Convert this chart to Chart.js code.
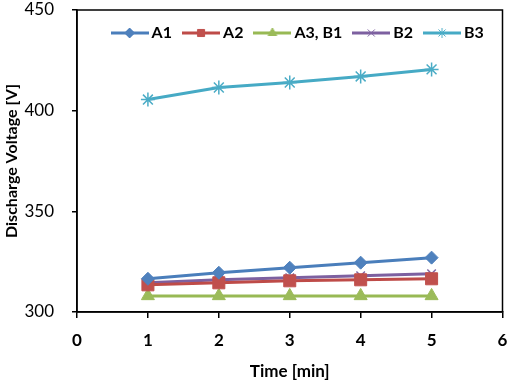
<!DOCTYPE html>
<html>
<head>
<meta charset="utf-8">
<script src="https://cdn.jsdelivr.net/npm/chart.js@4/dist/chart.umd.min.js"></script>
<style>
  html, body { margin: 0; padding: 0; background: #fff; }
  #wrap { width: 512px; height: 382px; position: relative; }
</style>
</head>
<body>
<div id="wrap"><canvas id="c" width="512" height="382"></canvas></div>
<script>
const times = [1, 2, 3, 4, 5];
const seriesNames = ['A1', 'A2', 'A3, B1', 'B2', 'B3'];
const a1 = [316.5, 319.5, 322, 324.5, 327];
const a2 = [313.5, 314.5, 315.5, 316, 316.5];
const a3b1 = [308, 308, 308, 308, 308];
const b2 = [314.5, 316, 317, 318, 319];
const b3 = [405.5, 411.5, 414, 417, 420.5];
const xTicks = [0, 1, 2, 3, 4, 5, 6];
const yTicks = [300, 350, 400, 450];

const lineColors = ['#4A7EBB', '#BE4B48', '#98B954', '#7D60A0', '#46AAC5'];
const fillColors = ['#4F81BD', '#C0504D', '#9BBB59', '#8064A2', '#4BACC6'];
const styles = ['rectRot', 'rect', 'triangle', 'crossRot', 'star'];
const radii = [6.5, 8.5, 7.5, 6, 7];
const allValues = [a1, a2, a3b1, b2, b3];

function legendIcon(i) {
  const cv = document.createElement('canvas');
  cv.width = 38; cv.height = 14;
  const ctx = cv.getContext('2d');
  ctx.strokeStyle = lineColors[i];
  ctx.lineWidth = 3;
  ctx.beginPath(); ctx.moveTo(0, 7); ctx.lineTo(38, 7); ctx.stroke();
  ctx.fillStyle = fillColors[i];
  ctx.strokeStyle = fillColors[i];
  ctx.lineWidth = 1;
  Chart.helpers.drawPoint(ctx, {pointStyle: styles[i], rotation: 0, borderWidth: 1, radius: 5}, 19, 7);
  return cv;
}

const datasets = seriesNames.map((n, i) => ({
  label: n,
  data: times.map((t, k) => ({x: t, y: allValues[i][k]})),
  borderColor: lineColors[i],
  backgroundColor: fillColors[i],
  pointBackgroundColor: fillColors[i],
  pointBorderColor: fillColors[i],
  pointStyle: styles[i],
  pointRadius: radii[i],
  pointBorderWidth: (i >= 3) ? 1.5 : 1,
  borderWidth: 3,
  tension: 0,
  fill: false
}));

const frame = {
  id: 'frame',
  beforeUpdate(chart) {
    if (chart.legend) chart.legend.isHorizontal = () => true;
  },
  beforeLayout(chart) {
    if (chart.legend) chart.legend.isHorizontal = () => true;
  },
  afterLayout(chart) {
    const lg = chart.legend, a = chart.chartArea;
    if (lg) {
      lg.left = a.left + 20;
      lg.right = a.right;
      lg.width = lg.right - lg.left;
      lg.top = a.top;
      lg.bottom = a.top + lg.height;
    }
  },
  afterDraw(chart) {
    const {ctx, chartArea: a} = chart;
    ctx.save();
    ctx.strokeStyle = '#000';
    ctx.lineWidth = 1.5;
    ctx.strokeRect(a.left, a.top, a.right - a.left, a.bottom - a.top);
    ctx.restore();
  }
};

const FONT = "Lato, 'Open Sans', sans-serif";

new Chart(document.getElementById('c'), {
  type: 'line',
  data: { datasets },
  plugins: [frame],
  options: {
    responsive: false,
    animation: false,
    layout: { padding: { top: 0, right: 0, left: 0, bottom: 0 } },
    plugins: {
      tooltip: { enabled: false },
      legend: {
        position: 'chartArea',
        fullSize: false,
        align: 'center',
        labels: {
          usePointStyle: true,
          pointStyleWidth: 28,
          padding: 15,
          color: '#000',
          font: { family: FONT, size: 16, weight: 'bold' },
          generateLabels(chart) {
            return chart.data.datasets.map((d, i) => ({
              text: d.label,
              pointStyle: legendIcon(i),
              fillStyle: fillColors[i],
              strokeStyle: lineColors[i],
              lineWidth: 0,
              hidden: false,
              datasetIndex: i,
              fontColor: '#000'
            }));
          }
        }
      }
    },
    scales: {
      x: {
        type: 'linear',
        min: 0, max: 6,
        afterBuildTicks(s) { s.ticks = xTicks.map(v => ({value: v})); },
        afterFit(s) { s.height = 70; s.paddingRight = 3; s.paddingLeft = 0; },
        grid: { display: true, drawOnChartArea: false, drawTicks: true, tickLength: 6, color: '#000', lineWidth: 1.5 },
        border: { display: true, color: '#000', width: 1.5 },
        ticks: { color: '#000', font: { family: FONT, size: 17, weight: 'bold' }, padding: 12, maxRotation: 0 },
        title: { display: true, text: 'Time [min]', color: '#000', font: { family: FONT, size: 17, weight: 'bold' }, padding: { top: 2, bottom: 0 } }
      },
      y: {
        type: 'linear',
        min: 300, max: 450,
        afterBuildTicks(s) { s.ticks = yTicks.map(v => ({value: v})); },
        afterFit(s) { s.width = 77; s.paddingTop = 10; s.paddingBottom = 0; },
        grid: { display: true, drawOnChartArea: false, drawTicks: true, tickLength: 5, color: '#000', lineWidth: 1.5 },
        border: { display: true, color: '#000', width: 1.5 },
        ticks: { color: '#000', font: { family: FONT, size: 17 }, padding: 18 },
        title: { display: true, text: 'Discharge Voltage [V]', color: '#000', font: { family: FONT, size: 16, weight: 'bold' }, padding: { top: 2, bottom: 0 } }
      }
    }
  }
});
</script>
</body>
</html>
